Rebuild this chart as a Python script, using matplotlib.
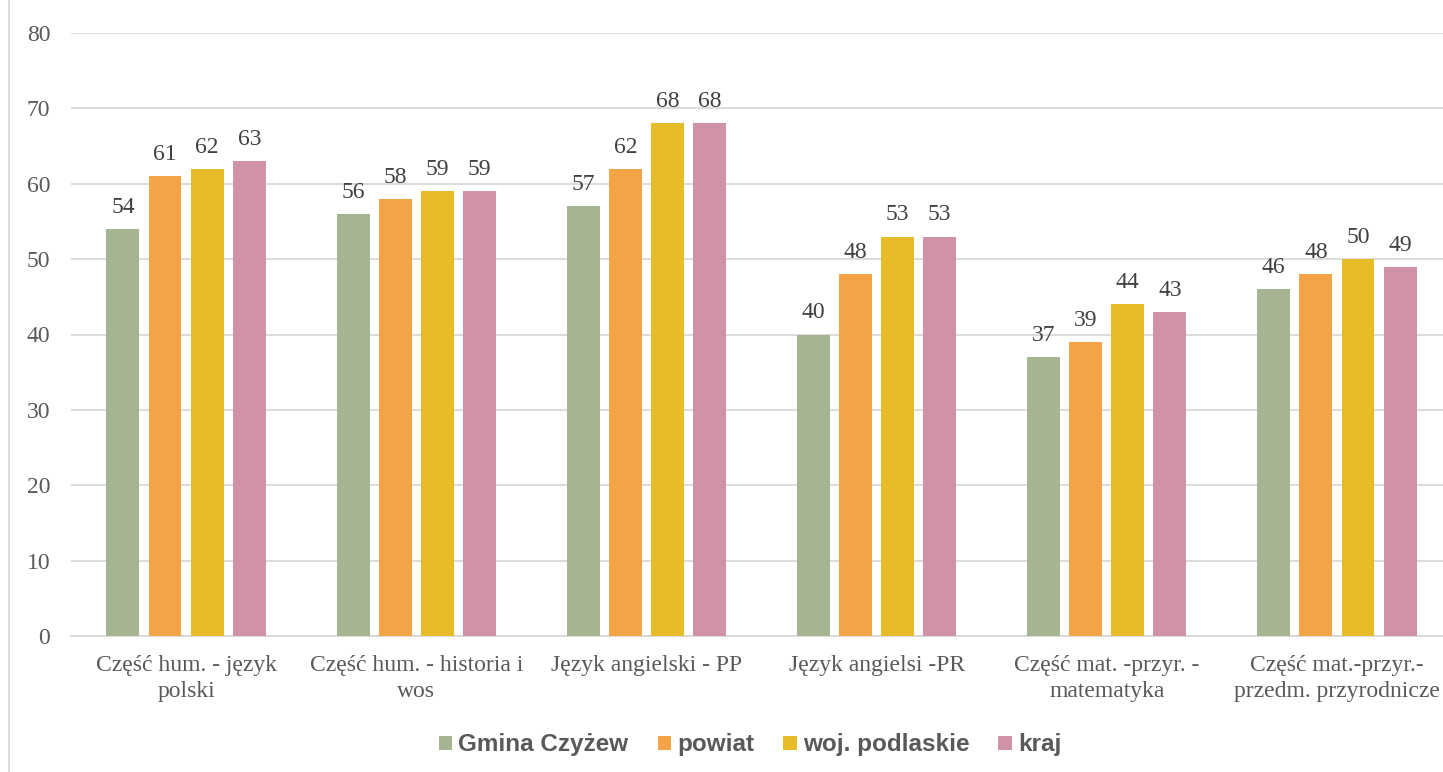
import matplotlib
matplotlib.use("Agg")
import matplotlib.pyplot as plt
import numpy as np
from matplotlib.lines import Line2D
from matplotlib.patches import Patch

categories = [
    "Część hum. - język\npolski",
    "Część hum. - historia i\nwos",
    "Język angielski - PP",
    "Język angielsi -PR",
    "Część mat. -przyr. -\nmatematyka",
    "Część mat.-przyr.-\nprzedm. przyrodnicze",
]
series_names = ["Gmina Czyżew", "powiat", "woj. podlaskie", "kraj"]
gmina = [54, 56, 57, 40, 37, 46]
powiat = [61, 58, 62, 48, 39, 48]
wojewodztwo = [62, 59, 68, 53, 44, 50]
kraj = [63, 59, 68, 53, 43, 49]
colors = ["#A5B592", "#F3A447", "#E7BC29", "#D092A7"]
yticks = [0, 10, 20, 30, 40, 50, 60, 70, 80]

W, H = 1443, 772
fig = plt.figure(figsize=(W / 100, H / 100), dpi=100)
ax = fig.add_axes([71 / W, (H - 636) / H, (1452 - 71) / W, 603 / H])

x = np.arange(len(categories))
bw = 0.143
step = 0.183
for i, (vals, c) in enumerate(zip([gmina, powiat, wojewodztwo, kraj], colors)):
    pos = x + (i - 1.5) * step
    ax.bar(pos, vals, width=bw, color=c, zorder=3)
    for p, v in zip(pos, vals):
        ax.annotate(str(v), (p, v), xytext=(0, 8), textcoords="offset points",
                    ha="center", va="bottom", fontsize=17, color="#404040",
                    family="Liberation Serif")

ax.set_xlim(-0.5, len(categories) - 0.5)
ax.set_ylim(0, 80)
ax.set_yticks(yticks)
ax.set_yticklabels([str(t) for t in yticks], family="Liberation Serif",
                   fontsize=17, color="#595959")
ax.set_xticks(x)
ax.set_xticklabels(categories, family="Liberation Serif", fontsize=17,
                   color="#595959", linespacing=1.3)
ax.tick_params(axis="both", length=0)
ax.tick_params(axis="y", pad=15)
ax.tick_params(axis="x", pad=14)
ax.grid(axis="y", color="#D9D9D9", linewidth=1.3, zorder=0)
for s in ["top", "right", "left"]:
    ax.spines[s].set_visible(False)
ax.spines["bottom"].set_color("#D9D9D9")
ax.spines["bottom"].set_linewidth(1.3)

# outer chart border on the left
fig.add_artist(Line2D([8.5 / W, 8.5 / W], [0, 1], color="#D9D9D9",
                      linewidth=1.3, transform=fig.transFigure))

handles = [Patch(facecolor=c, edgecolor="none") for c in colors]
leg = fig.legend(handles, series_names, loc="center", bbox_to_anchor=(750 / W, (H - 745) / H),
                 ncol=4, frameon=False, handlelength=0.55, handleheight=0.55,
                 handletextpad=0.25, columnspacing=1.2,
                 prop={"family": "Liberation Sans", "weight": "bold", "size": 17.5})
for t in leg.get_texts():
    t.set_color("#595959")

fig.savefig("out.png", dpi=100)
